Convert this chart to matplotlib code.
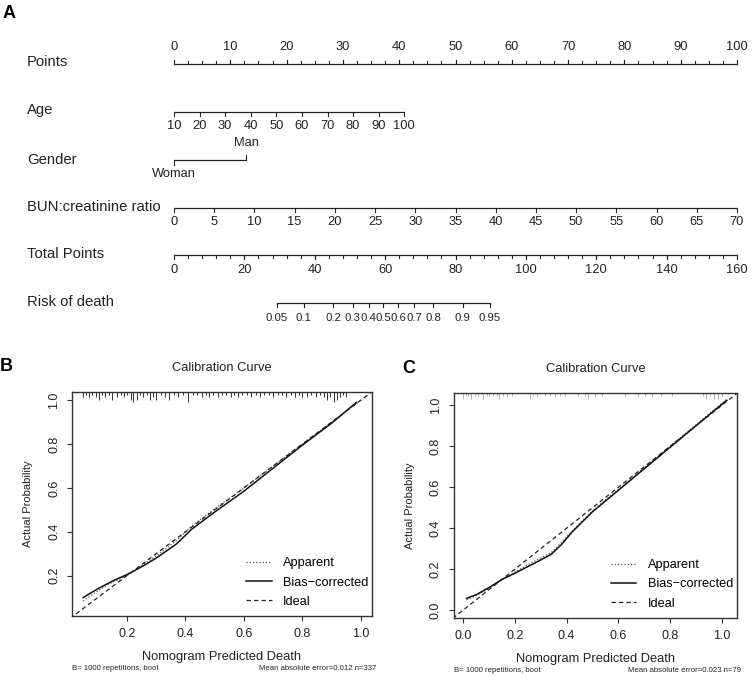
import numpy as np
import matplotlib
matplotlib.use("Agg")
import matplotlib.pyplot as plt
from matplotlib.transforms import blended_transform_factory

plt.rcParams['font.family'] = ['Liberation Sans', 'DejaVu Sans']

W, H = 752, 677
INK = '#222222'

# ---- nomogram (panel A) ----
points_ticks = [0, 10, 20, 30, 40, 50, 60, 70, 80, 90, 100]
age_ticks = [10, 20, 30, 40, 50, 60, 70, 80, 90, 100]
age_points_at_max = 40.9          # points given to age 100
gender_levels = ['Woman', 'Man']
gender_points = [0.0, 12.8]
bun_ticks = [0, 5, 10, 15, 20, 25, 30, 35, 40, 45, 50, 55, 60, 65, 70]
bun_points_at_max = 100.0
total_ticks = [0, 20, 40, 60, 80, 100, 120, 140, 160]
total_max = 160.0
risk_ticks = [0.05, 0.1, 0.2, 0.3, 0.4, 0.5, 0.6, 0.7, 0.8, 0.9, 0.95]
risk_labels = ['0.05', '0.1', '0.2', '0.3', '0.4', '0.5', '0.6', '0.7', '0.8', '0.9', '0.95']
risk_mid_total = 59.5             # total points where risk = 0.5
risk_slope = 0.0973               # logit change per total point

# ---- calibration panel B ----
b_app_x = [0.05, 0.1, 0.15, 0.2, 0.25, 0.3, 0.37, 0.42, 0.5, 0.6, 0.7, 0.8, 0.9, 1.0]
b_app_y = [0.085, 0.13, 0.17, 0.20, 0.245, 0.29, 0.36, 0.425, 0.505, 0.60, 0.70, 0.80, 0.90, 1.0]
b_bias_x = [0.05, 0.1, 0.15, 0.2, 0.25, 0.3, 0.37, 0.42, 0.5, 0.6, 0.7, 0.8, 0.9, 0.985]
b_bias_y = [0.10, 0.14, 0.175, 0.205, 0.24, 0.28, 0.345, 0.41, 0.49, 0.585, 0.69, 0.795, 0.895, 0.99]
b_rug_pos = [0.05, 0.06, 0.07, 0.08, 0.095, 0.105, 0.115, 0.125, 0.14, 0.15,
             0.165, 0.18, 0.19, 0.20, 0.215, 0.222, 0.235, 0.245, 0.255, 0.27,
             0.28, 0.29, 0.30, 0.315, 0.33, 0.345, 0.36, 0.375, 0.39, 0.41,
             0.425, 0.44, 0.455, 0.47, 0.48, 0.495, 0.51, 0.525, 0.54, 0.555,
             0.565, 0.58, 0.595, 0.61, 0.625, 0.64, 0.655, 0.67, 0.685, 0.70,
             0.715, 0.73, 0.745, 0.76, 0.775, 0.79, 0.80, 0.815, 0.83, 0.845,
             0.86, 0.875, 0.885, 0.895, 0.908, 0.92, 0.93, 0.94, 0.95]
b_rug_cnt = [2, 1, 2, 1, 2, 3, 1, 2, 1, 3,
             2, 1, 2, 1, 3, 4, 3, 1, 2, 1,
             3, 2, 3, 1, 2, 3, 1, 2, 1, 4,
             1, 1, 2, 1, 2, 1, 2, 1, 1, 2,
             1, 2, 1, 1, 2, 1, 2, 1, 1, 2,
             1, 1, 2, 1, 2, 1, 2, 2, 1, 2,
             1, 2, 3, 2, 4, 3, 2, 1, 2]

# ---- calibration panel C ----
c_app_x = [0.013, 0.05, 0.1, 0.15, 0.2, 0.27, 0.34, 0.38, 0.42, 0.46, 0.5, 0.6, 0.7, 0.8, 0.9, 1.0, 1.02]
c_app_y = [0.05, 0.07, 0.105, 0.15, 0.185, 0.235, 0.28, 0.33, 0.385, 0.435, 0.485, 0.59, 0.695, 0.80, 0.905, 1.01, 1.03]
c_bias_x = [0.013, 0.05, 0.1, 0.15, 0.2, 0.27, 0.34, 0.38, 0.42, 0.46, 0.5, 0.6, 0.7, 0.8, 0.9, 1.0, 1.02]
c_bias_y = [0.057, 0.075, 0.11, 0.15, 0.18, 0.225, 0.272, 0.32, 0.38, 0.43, 0.48, 0.585, 0.69, 0.795, 0.9, 1.005, 1.025]
c_rug_pos = [0.0, 0.01, 0.02, 0.03, 0.045, 0.058, 0.077, 0.09, 0.10, 0.115,
             0.13, 0.14, 0.155, 0.17, 0.187, 0.258, 0.27, 0.284, 0.316, 0.335,
             0.355, 0.375, 0.394, 0.445, 0.471, 0.484, 0.51, 0.536, 0.626, 0.677,
             0.703, 0.729, 0.765, 0.806, 0.928, 0.94, 0.955, 0.97, 0.985, 1.0]
c_rug_cnt = [2, 1, 1, 2, 1, 1, 2, 1, 1, 1,
             1, 2, 1, 1, 1, 2, 1, 1, 1, 1,
             1, 1, 1, 1, 1, 2, 1, 1, 1, 1,
             1, 1, 1, 1, 1, 2, 1, 2, 2, 1]

ideal_x = [-0.2, 1.2]
ideal_y = [-0.2, 1.2]


def fx(px):
    return px / W


def fy(py):
    return 1 - py / H


def nomo_scale(ax, y, pos, labels, side, minor=None, off=14, tl=4.0, fs=9.3):
    """Draw one nomogram row: line, ticks and tick labels (y in pixels)."""
    d = -1 if side == 'up' else 1
    ax.plot([min(pos), max(pos)], [y, y], color=INK, lw=0.9, clip_on=False,
            solid_capstyle='butt')
    if minor is not None:
        for p in minor:
            ax.plot([p, p], [y, y + d * 2.8], color=INK, lw=0.8, clip_on=False)
    for p, lab in zip(pos, labels):
        ax.plot([p, p], [y, y + d * tl], color=INK, lw=0.8, clip_on=False)
        ax.text(p, y + d * off, lab, ha='center', va='center', fontsize=fs,
                color=INK)


fig = plt.figure(figsize=(W / 100, H / 100), dpi=100)

# ---------------- panel A ----------------
ax = fig.add_axes([fx(174), fy(340), 563 / W, 340 / H])
ax.set_xlim(0, 100)
ax.set_ylim(340, 0)
ax.axis('off')
lab_tr = blended_transform_factory(fig.transFigure, ax.transData)

row_names = ['Points', 'Age', 'Gender', 'BUN:creatinine ratio', 'Total Points', 'Risk of death']
row_y = [62, 110, 160, 207, 254, 302]
for name, yy in zip(row_names, row_y):
    ax.text(fx(27), yy, name, transform=lab_tr, ha='left', va='center',
            fontsize=10.7, color=INK)

# Points
nomo_scale(ax, 64, points_ticks, [str(v) for v in points_ticks], 'up',
           minor=np.arange(0, 100.01, 2.5), off=17)
# Age
age_pts = [(a - age_ticks[0]) / (age_ticks[-1] - age_ticks[0]) * age_points_at_max
           for a in age_ticks]
nomo_scale(ax, 112, age_pts, [str(a) for a in age_ticks], 'down', off=14)
# Gender
gy = 160
ax.plot([gender_points[0], gender_points[1]], [gy, gy], color=INK, lw=0.9,
        clip_on=False, solid_capstyle='butt')
ax.plot([gender_points[0]] * 2, [gy, gy + 5], color=INK, lw=0.8, clip_on=False)
ax.plot([gender_points[1]] * 2, [gy, gy - 5], color=INK, lw=0.8, clip_on=False)
ax.text(gender_points[0], gy + 14, gender_levels[0], ha='center', va='center',
        fontsize=9.3, color=INK)
ax.text(gender_points[1], gy - 17, gender_levels[1], ha='center', va='center',
        fontsize=9.3, color=INK)
# BUN:creatinine ratio
bun_pts = [b / bun_ticks[-1] * bun_points_at_max for b in bun_ticks]
nomo_scale(ax, 207.5, bun_pts, [str(b) for b in bun_ticks], 'down', off=14.5)
# Total points
tot_pts = [t / total_max * 100 for t in total_ticks]
nomo_scale(ax, 255, tot_pts, [str(t) for t in total_ticks], 'down',
           minor=np.arange(0, total_max + 0.01, 4) / total_max * 100, off=15)
# Risk of death (labels are crowded in the original too)
risk_tot = [risk_mid_total + np.log(p / (1 - p)) / risk_slope for p in risk_ticks]
risk_pts = [t / total_max * 100 for t in risk_tot]
nomo_scale(ax, 303, risk_pts, risk_labels, 'down', off=15, fs=8.2)


# ---------------- panels B and C ----------------
def calib(ax, app_x, app_y, bias_x, bias_y, rug_pos, rug_cnt, rug_col,
          lims_x, lims_y, xticks, yticks, err_text, box_w, box_h):
    ax.set_xlim(*lims_x)
    ax.set_ylim(*lims_y)
    tr = ax.get_xaxis_transform()
    for p, c in zip(rug_pos, rug_cnt):
        ax.plot([p, p], [1, 1 - 2.6 * c / box_h], transform=tr, color=rug_col,
                lw=0.7, solid_capstyle='butt')
    l_app, = ax.plot(app_x, app_y, color='#555555', lw=0.9, dashes=(1, 1.6),
                     label='Apparent')
    l_bias, = ax.plot(bias_x, bias_y, color='#111111', lw=1.1,
                      label='Bias\u2212corrected')
    l_ideal, = ax.plot(ideal_x, ideal_y, color='#222222', lw=0.9,
                       dashes=(3.5, 2.5), label='Ideal')
    ax.legend(handles=[l_app, l_bias, l_ideal], frameon=False, loc='lower right',
              bbox_to_anchor=(1.005, 0.015), fontsize=9.2, handlelength=2.0,
              handletextpad=0.9, labelspacing=0.55, borderaxespad=0)
    ax.set_xticks(xticks)
    ax.set_yticks(yticks)
    ax.set_xticklabels([f'{v:.1f}' for v in xticks])
    ax.set_yticklabels([f'{v:.1f}' for v in yticks], rotation=90, va='center')
    ax.tick_params(length=3.6, width=0.8, labelsize=9, color='#333333',
                   labelcolor=INK)
    ax.tick_params(axis='x', pad=5)
    ax.tick_params(axis='y', pad=5)
    for s in ax.spines.values():
        s.set_color('#333333')
        s.set_linewidth(1.0)
    ax.set_xlabel('Nomogram Predicted Death', fontsize=9.3, color=INK)
    ax.set_ylabel('Actual Probability', fontsize=8, color=INK)
    ax.xaxis.set_label_coords(0.5, -41 / box_h)
    ax.xaxis.label.set_va('center')
    ax.yaxis.set_label_coords(-44 / box_w, 0.5)
    ax.yaxis.label.set_va('center')
    ax.text(0.5, 1 + 24 / box_h, 'Calibration Curve', transform=ax.transAxes,
            ha='center', va='center', fontsize=9.3, color=INK)
    ax.text(0.0, -53 / box_h, 'B= 1000 repetitions, boot', transform=ax.transAxes,
            ha='left', va='center', fontsize=5.6, color=INK)
    ax.text(1.015, -53 / box_h, err_text, transform=ax.transAxes,
            ha='right', va='center', fontsize=5.6, color=INK)


axB = fig.add_axes([fx(72), fy(616), 300 / W, 224 / H])
calib(axB, b_app_x, b_app_y, b_bias_x, b_bias_y, b_rug_pos, b_rug_cnt, '#333333',
      (0.012, 1.038), (0.016, 1.037), [0.2, 0.4, 0.6, 0.8, 1.0],
      [0.2, 0.4, 0.6, 0.8, 1.0], 'Mean absolute error=0.012 n=337', 300, 224)

axC = fig.add_axes([fx(453.7), fy(618), 283.3 / W, 224.7 / H])
calib(axC, c_app_x, c_app_y, c_bias_x, c_bias_y, c_rug_pos, c_rug_cnt, '#b0b0b0',
      (-0.037, 1.059), (-0.039, 1.059), [0.0, 0.2, 0.4, 0.6, 0.8, 1.0],
      [0.0, 0.2, 0.4, 0.6, 0.8, 1.0], 'Mean absolute error=0.023 n=79', 283.3, 224.7)

# panel letters
fig.text(fx(9), fy(13), 'A', fontsize=13, fontweight='bold', ha='center', va='center')
fig.text(fx(6), fy(367), 'B', fontsize=13, fontweight='bold', ha='center', va='center')
fig.text(fx(409), fy(368), 'C', fontsize=13, fontweight='bold', ha='center', va='center')

fig.savefig('out.png', dpi=100)
